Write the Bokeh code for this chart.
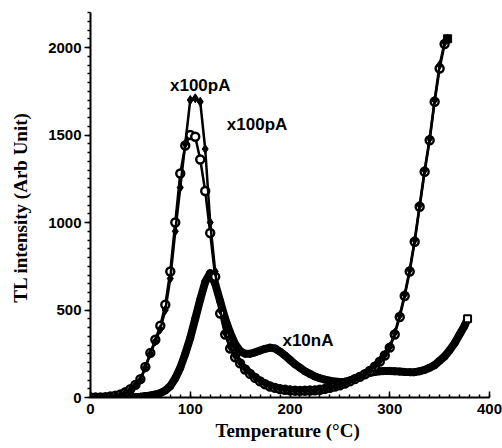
from bokeh.plotting import figure
from bokeh.embed import file_html
from bokeh.resources import INLINE
from bokeh.models import Range1d, SingleIntervalTicker
from bokeh.core.properties import value

# ---- data ----
# x100pA curve, peak ~1700
t_pa1 = [0, 5, 10, 15, 20, 25, 30, 35, 40, 45, 50, 55, 60, 65, 70, 75, 80, 85, 90, 95,
         100, 105, 110, 115, 120, 125, 130, 135, 140, 145, 150, 155, 160, 165, 170, 175,
         180, 185, 190, 195, 200, 205, 210, 215, 220, 225, 230, 235, 240, 245, 250, 255,
         260, 265, 270, 275, 280, 285, 290, 295, 300, 305, 310, 315, 320, 325, 330, 335,
         340, 345, 350, 355, 358]
i_pa1 = [0, 0, 0, 2, 5, 10, 16, 28, 45, 70, 100, 170, 250, 320, 390, 500, 680, 950, 1200, 1450,
         1700, 1710, 1690, 1420, 1000, 720, 500, 370, 290, 240, 200, 165, 140, 115, 95, 78,
         65, 57, 50, 46, 42, 40, 40, 40, 40, 42, 45, 50, 57, 64, 72, 82,
         95, 107, 120, 135, 155, 180, 210, 245, 290, 370, 470, 590, 730, 900, 1100, 1300,
         1480, 1700, 1900, 2030, 2050]

# x100pA curve, peak ~1500
t_pa2 = [0, 5, 10, 15, 20, 25, 30, 35, 40, 45, 50, 55, 60, 65, 70, 75, 80, 85, 90, 95,
         100, 105, 110, 115, 120, 125, 130, 135, 140, 145, 150, 155, 160, 165, 170, 175,
         180, 185, 190, 195, 200, 205, 210, 215, 220, 225, 230, 235, 240, 245, 250, 255,
         260, 265, 270, 275, 280, 285, 290, 295, 300, 305, 310, 315, 320, 325, 330, 335,
         340, 345, 350, 355]
i_pa2 = [0, 0, 0, 2, 6, 11, 18, 30, 48, 72, 105, 175, 255, 330, 410, 530, 720, 1000, 1280, 1440,
         1500, 1490, 1360, 1180, 940, 690, 480, 360, 280, 230, 195, 160, 135, 112, 92, 76,
         63, 55, 48, 44, 41, 39, 38, 39, 40, 41, 44, 49, 55, 62, 70, 80,
         92, 105, 118, 133, 152, 176, 205, 240, 285, 360, 460, 580, 720, 890, 1090, 1290,
         1470, 1690, 1880, 2020]

# x10nA curve
t_na = [20, 25, 30, 35, 40, 45, 50, 55, 60, 65, 70, 75, 80, 85, 90, 95, 100, 105, 110, 115,
        120, 125, 130, 135, 140, 145, 150, 155, 160, 165, 170, 175, 180, 185, 190, 195,
        200, 205, 210, 215, 220, 225, 230, 235, 240, 245, 250, 255, 260, 265, 270, 275,
        280, 285, 290, 295, 300, 305, 310, 315, 320, 325, 330, 335, 340, 345, 350, 355,
        360, 365, 370, 375, 378]
i_na = [0, 0, 0, 0, 2, 3, 5, 8, 12, 17, 25, 40, 65, 110, 170, 250, 340, 450, 560, 660,
        712, 650, 550, 450, 370, 305, 265, 250, 250, 258, 268, 278, 285, 280, 262, 240,
        215, 190, 170, 150, 135, 120, 110, 102, 96, 91, 88, 90, 96, 108, 122, 132,
        140, 146, 150, 152, 152, 150, 148, 146, 145, 145, 150, 158, 170, 185, 210, 235,
        270, 310, 360, 410, 450]

labels = ["x100pA", "x100pA", "x10nA"]
label_t = [110, 167, 218]
label_i = [1783, 1560, 326]

x_ticks_major = 100
y_ticks_major = 500

p = figure(width=502, height=448, output_backend="svg", toolbar_location=None,
           x_range=Range1d(0, 400), y_range=Range1d(0, 2200),
           min_border_left=90, min_border_right=13, min_border_top=12, min_border_bottom=51)
p.outline_line_color = None
p.xgrid.visible = False
p.ygrid.visible = False
p.background_fill_color = "white"

# curves
p.line(t_na, i_na, line_color="black", line_width=8)
p.scatter(t_na, i_na, marker="circle", size=7, fill_color="black", line_color="black", line_width=1)
p.scatter([t_na[-1]], [i_na[-1]], marker="square", size=7, fill_color="white", line_color="black", line_width=2)

p.line(t_pa2, i_pa2, line_color="black", line_width=2.5)
p.scatter(t_pa2, i_pa2, marker="circle", size=8, fill_color="white", line_color="black", line_width=2.4)

p.line(t_pa1, i_pa1, line_color="black", line_width=2.5)
p.scatter(t_pa1, i_pa1, marker="diamond", size=9, fill_color="black", line_color="black")
p.scatter([t_pa1[-1]], [i_pa1[-1]], marker="square", size=8, fill_color="black", line_color="black")
p.scatter([t_pa1[0]], [i_pa1[0]], marker="diamond", size=11, fill_color="black", line_color="black")

p.text(x=label_t, y=label_i, text=labels, text_font=value("Liberation Sans"),
       text_font_style="bold", text_font_size="17px", text_align="center",
       text_baseline="middle", text_color="black")

# axes
xa = p.xaxis[0]
xa.ticker = SingleIntervalTicker(interval=x_ticks_major, num_minor_ticks=10)
xa.axis_label = "Temperature  (\u00b0C)"
xa.axis_label_text_font = "Liberation Serif"
xa.axis_label_text_font_style = "bold"
xa.axis_label_text_font_size = "19px"
xa.axis_label_standoff = 3
xa.major_label_text_font = "Liberation Sans"
xa.major_label_text_font_style = "bold"
xa.major_label_text_font_size = "15px"
xa.major_label_standoff = 6
xa.major_tick_in = 6
xa.major_tick_out = 0
xa.minor_tick_in = 3
xa.minor_tick_out = 0
xa.axis_line_width = 2
xa.major_tick_line_width = 1.5
xa.minor_tick_line_width = 1.5

ya = p.yaxis[0]
ya.ticker = SingleIntervalTicker(interval=y_ticks_major, num_minor_ticks=10)
ya.axis_label = "TL intensity (Arb  Unit)"
ya.axis_label_text_font = "Liberation Serif"
ya.axis_label_text_font_style = "bold"
ya.axis_label_text_font_size = "19px"
ya.axis_label_standoff = 14
ya.major_label_text_font = "Liberation Sans"
ya.major_label_text_font_style = "bold"
ya.major_label_text_font_size = "15px"
ya.major_label_standoff = 3
ya.major_tick_in = 0
ya.major_tick_out = 6
ya.minor_tick_in = 0
ya.minor_tick_out = 3
ya.axis_line_width = 2
ya.major_tick_line_width = 1.5
ya.minor_tick_line_width = 1.5

for a in (xa, ya):
    a.axis_line_color = "black"
    a.major_tick_line_color = "black"
    a.minor_tick_line_color = "black"
    a.major_label_text_color = "black"
    a.axis_label_text_color = "black"

open("out.html", "w").write(file_html(p, INLINE))
